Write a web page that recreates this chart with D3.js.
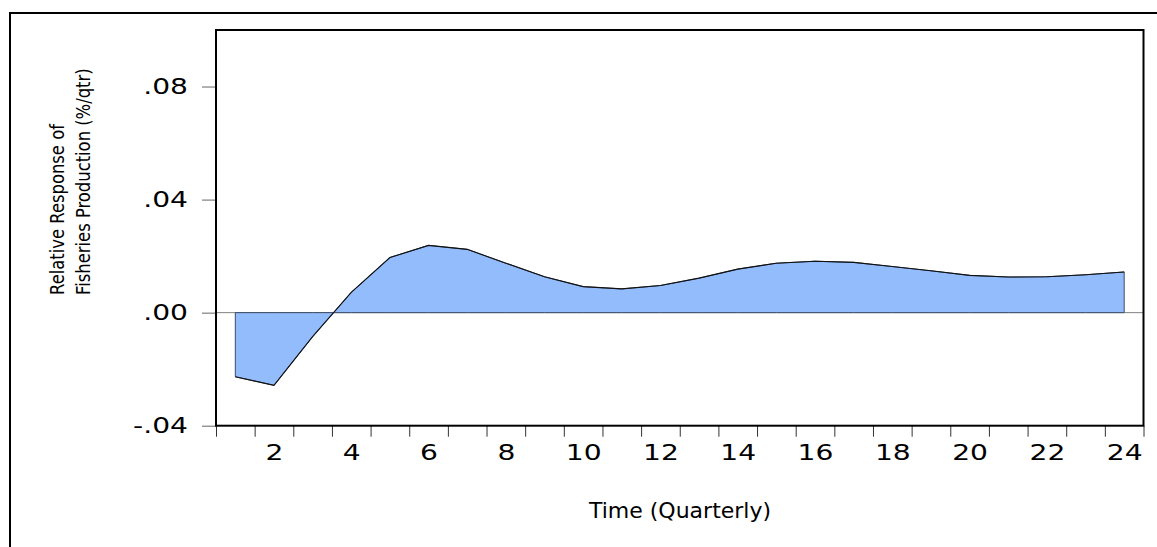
<!DOCTYPE html>
<html>
<head>
<meta charset="utf-8">
<script src="https://cdn.jsdelivr.net/npm/d3@7"></script>
<style>
  html, body { margin: 0; padding: 0; background: #ffffff; }
  svg { display: block; }
  text { font-family: "DejaVu Sans", Verdana, sans-serif; fill: #000; }
</style>
</head>
<body>
<svg id="chart" width="1157" height="547"></svg>
<script>
// Impulse response: quarters after the shock and the relative response
const periods = [1, 2, 3, 4, 5, 6, 7, 8, 9, 10, 11, 12,
                 13, 14, 15, 16, 17, 18, 19, 20, 21, 22, 23, 24];
const response = [-0.0227, -0.0257, -0.0085, 0.0072, 0.0195, 0.0238,
                   0.0224, 0.0175, 0.0127, 0.0092, 0.0084, 0.0096,
                   0.0122, 0.0154, 0.0175, 0.0182, 0.0178, 0.0163,
                   0.0148, 0.0132, 0.0126, 0.0127, 0.0134, 0.0144];
const yTickValues = [-0.04, 0.00, 0.04, 0.08];
const yTickLabels = ["-.04", ".00", ".04", ".08"];
const xLabelPeriods = [2, 4, 6, 8, 10, 12, 14, 16, 18, 20, 22, 24];
const xTitle = "Time (Quarterly)";
const yTitleLines = ["Relative Response of", "Fisheries Production (%/qtr)"];

const svg = d3.select("#chart");
const W = +svg.attr("width"), H = +svg.attr("height");
const plot = { left: 216, right: 1143.5, top: 30, bottom: 425.7 };
const digitStretch = 1.28;   // wide numerals on the axes
const titleSqueeze = 0.82;   // slightly condensed run length of the vertical title

const x = d3.scaleLinear()
  .domain([periods[0] - 0.5, periods[periods.length - 1] + 0.5])
  .range([plot.left, plot.right]);
const y = d3.scaleLinear().domain([-0.04, 0.10]).range([plot.bottom, plot.top]);

// Outer frame (open towards the right and bottom edges)
svg.append("path")
  .attr("d", `M10,${H} L10,13 L${W},13`)
  .attr("fill", "none").attr("stroke", "#000").attr("stroke-width", 2);

// Zero reference line
svg.append("line")
  .attr("x1", plot.left).attr("x2", plot.right)
  .attr("y1", y(0)).attr("y2", y(0))
  .attr("stroke", "#808080").attr("stroke-width", 1);

// Shaded response area
const pts = periods.map((p, i) => ({ p, v: response[i] }));
const area = d3.area()
  .x(d => x(d.p))
  .y0(y(0))
  .y1(d => y(d.v));
svg.append("path")
  .datum(pts)
  .attr("d", area)
  .attr("fill", "#93bcfc")
  .attr("stroke", "#3a4b68")
  .attr("stroke-width", 1)
  .attr("stroke-linejoin", "round");

const line = d3.line().x(d => x(d.p)).y(d => y(d.v));
svg.append("path")
  .datum(pts)
  .attr("d", line)
  .attr("fill", "none")
  .attr("stroke", "#111")
  .attr("stroke-width", 1.1);

// Y axis
const yAxis = d3.axisLeft(y)
  .tickValues(yTickValues)
  .tickSize(14)
  .tickPadding(14)
  .tickFormat((d, i) => yTickLabels[i]);
const gy = svg.append("g")
  .attr("transform", `translate(${plot.left},0)`)
  .call(yAxis);
gy.select(".domain").remove();
gy.selectAll(".tick line").attr("stroke", "#666");
gy.selectAll(".tick text")
  .attr("font-size", 22)
  .attr("font-family", "DejaVu Sans, Verdana, sans-serif")
  .attr("fill", "#000")
  .attr("x", -28 / digitStretch)
  .attr("transform", `scale(${digitStretch},1)`);

// X axis: ticks on period boundaries, labels centred on even periods
const boundaries = periods.map(p => p - 0.5).concat([periods[periods.length - 1] + 0.5]);
const gxTicks = svg.append("g")
  .attr("transform", `translate(0,${plot.bottom})`)
  .call(d3.axisBottom(x).tickValues(boundaries).tickSize(11).tickFormat(""));
gxTicks.select(".domain").remove();
gxTicks.selectAll(".tick line").attr("stroke", "#333");

const gxLabels = svg.append("g")
  .attr("transform", `translate(0,${plot.bottom})`)
  .call(d3.axisBottom(x).tickValues(xLabelPeriods).tickSize(0).tickPadding(19)
        .tickFormat(d3.format("d")));
gxLabels.select(".domain").remove();
gxLabels.selectAll(".tick text")
  .attr("font-size", 22)
  .attr("font-family", "DejaVu Sans, Verdana, sans-serif")
  .attr("fill", "#000")
  .attr("transform", `scale(${digitStretch},1)`);

// Plot frame
svg.append("rect")
  .attr("x", plot.left).attr("y", plot.top)
  .attr("width", plot.right - plot.left).attr("height", plot.bottom - plot.top)
  .attr("fill", "none").attr("stroke", "#000").attr("stroke-width", 2);

// Axis titles
svg.append("text")
  .attr("x", 680)
  .attr("y", 518)
  .attr("text-anchor", "middle")
  .attr("font-size", 22)
  .text(xTitle);

const yTitle = svg.append("text")
  .attr("transform", `rotate(-90) scale(${titleSqueeze},1)`)
  .attr("font-size", 20)
  .attr("text-anchor", "start");
yTitle.selectAll("tspan")
  .data(yTitleLines)
  .join("tspan")
  .attr("x", -295 / titleSqueeze)
  .attr("y", (d, i) => 64 + i * 26)
  .text(d => d);
</script>
</body>
</html>
